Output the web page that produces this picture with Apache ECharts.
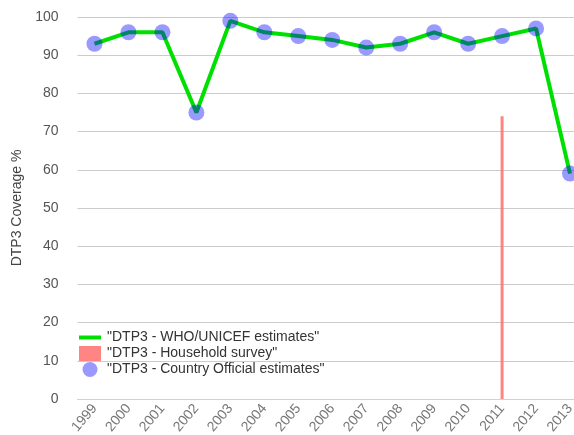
<!DOCTYPE html>
<html><head><meta charset="utf-8">
<script src="https://cdn.jsdelivr.net/npm/echarts@6/dist/echarts.min.js"></script>
<style>html,body{margin:0;padding:0;background:#fff}#c{width:574px;height:435px}</style>
</head><body><div id="c"></div>
<script>
var years = ['1999','2000','2001','2002','2003','2004','2005','2006','2007','2008','2009','2010','2011','2012','2013'];
var whoUnicef = [93,96,96,75,99,96,95,94,92,93,96,93,95,97,59];
var countryOfficial = [93,96,96,75,99,96,95,94,92,93,96,93,95,97,59];
var householdSurvey = ['-','-','-','-','-','-','-','-','-','-','-','-',74,'-','-'];
var yTicks = {min:0, max:100, interval:10};
var names = ['"DTP3 - WHO/UNICEF estimates"','"DTP3 - Household survey"','"DTP3 - Country Official estimates"'];

var chart = echarts.init(document.getElementById('c'), null, {renderer:'canvas'});
chart.setOption({
  animation:false,
  textStyle:{fontFamily:'Liberation Sans, Arial, sans-serif'},
  grid:{left:77.5, width:509.5, top:17, height:382, containLabel:false, outerBoundsMode:'none'},
  legend:{
    orient:'vertical', left:79, top:330, padding:0, itemWidth:22, itemHeight:15, itemGap:1,
    textStyle:{fontSize:14, color:'#333', padding:[0,0,0,1]},
    selectedMode:false,
    data:[
      {name:names[0], icon:'path://M0,0M22,15M0,5.5H22V9.5H0Z'},
      {name:names[1], icon:'rect'},
      {name:names[2], icon:'circle'}
    ]
  },
  xAxis:{
    type:'category', data:years, boundaryGap:true,
    axisLine:{lineStyle:{color:'#c6d4e6'}},
    axisTick:{alignWithLabel:true, length:6, lineStyle:{color:'#c6d4e6'}},
    axisLabel:{rotate:50, fontSize:14, color:'#777', margin:7, interval:0},
    splitLine:{show:false}
  },
  yAxis:{
    type:'value', min:yTicks.min, max:yTicks.max, interval:yTicks.interval,
    name:'DTP3 Coverage %', nameLocation:'middle', nameGap:51, nameRotate:90,
    nameTextStyle:{fontSize:14, color:'#444'},
    axisLine:{show:false}, axisTick:{show:false},
    axisLabel:{fontSize:14, color:'#555', margin:19},
    splitLine:{lineStyle:{color:'#cccccc', width:1}}
  },
  series:[
    {name:names[0], type:'line', data:whoUnicef, showSymbol:false, symbol:'none',
     lineStyle:{color:'#00e000', width:4}, itemStyle:{color:'#00e000'}, z:2},
    {name:names[1], type:'bar', data:householdSurvey, barWidth:3,
     itemStyle:{color:'rgba(255,110,110,0.85)'}, z:3},
    {name:names[2], type:'scatter', data:countryOfficial, symbolSize:16,
     itemStyle:{color:'rgba(0,0,255,0.5)'}, z:4}
  ]
});
</script></body></html>
